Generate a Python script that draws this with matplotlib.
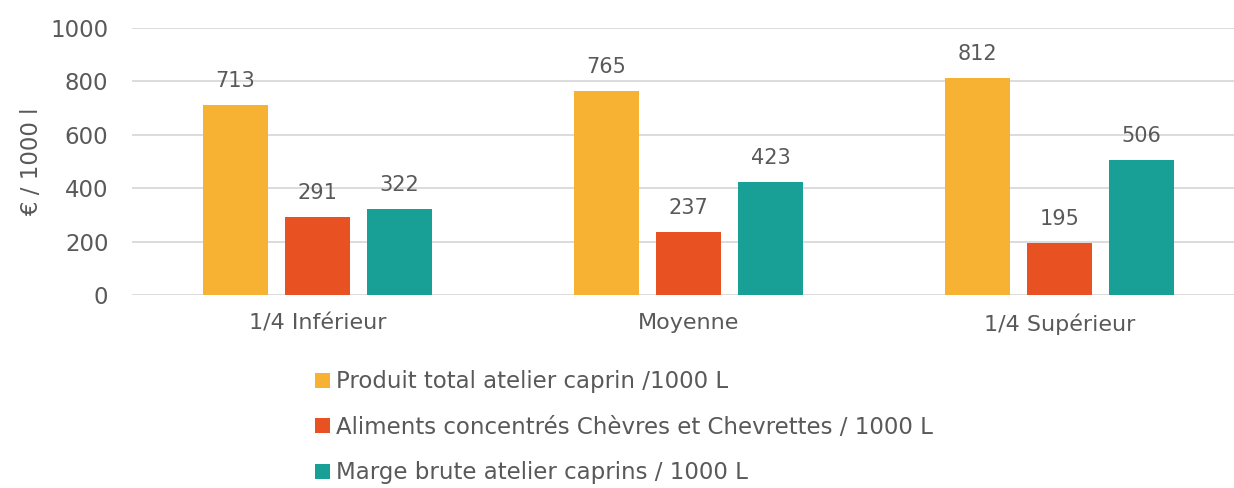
import numpy as np
import matplotlib.pyplot as plt

plt.rcParams['font.family'] = ['DejaVu Sans']

categories = ['1/4 Inférieur', 'Moyenne', '1/4 Supérieur']
series_names = ['Produit total atelier caprin /1000 L',
                'Aliments concentrés Chèvres et Chevrettes / 1000 L',
                'Marge brute atelier caprins / 1000 L']
produit = [713, 765, 812]
aliments = [291, 237, 195]
marge = [322, 423, 506]
colors = ['#F7B233', '#E85222', '#18A096']
grey = '#595959'

fig = plt.figure(figsize=(12.34, 4.88), dpi=100)
ax = fig.add_axes([0.107, 0.3955, 0.893, 0.547])

x = np.arange(len(categories))
width = 0.175
step = 0.221
handles = []
for i, (vals, col, name) in enumerate(zip([produit, aliments, marge], colors, series_names)):
    bars = ax.bar(x + (i - 1) * step, vals, width, color=col, label=name, zorder=3)
    ax.bar_label(bars, padding=10, fontsize=15, color=grey)
    handles.append(bars)

ax.set_ylim(0, 1000)
ax.set_xlim(-0.5, 2.47)
ax.set_yticks(range(0, 1001, 200))
ax.set_xticks(x)
ax.set_xticklabels(categories)
ax.yaxis.grid(True, color='#D9D9D9', linewidth=1.3, zorder=0)
for s in ax.spines.values():
    s.set_visible(False)
ax.tick_params(axis='both', length=0, colors=grey)
ax.tick_params(axis='y', labelsize=16.5, pad=17)
ax.tick_params(axis='x', labelsize=16, pad=13)
ax.set_ylabel('€ / 1000 l', fontsize=16.5, color=grey, labelpad=5)

fig.legend(handles=handles, loc='upper left', bbox_to_anchor=(0.255, 0.241),
           frameon=False, fontsize=16.5, labelcolor=grey,
           handlelength=0.65, handleheight=0.65, handletextpad=0.3,
           labelspacing=0.98, borderpad=0, borderaxespad=0)

fig.savefig('out.png', dpi=100)
